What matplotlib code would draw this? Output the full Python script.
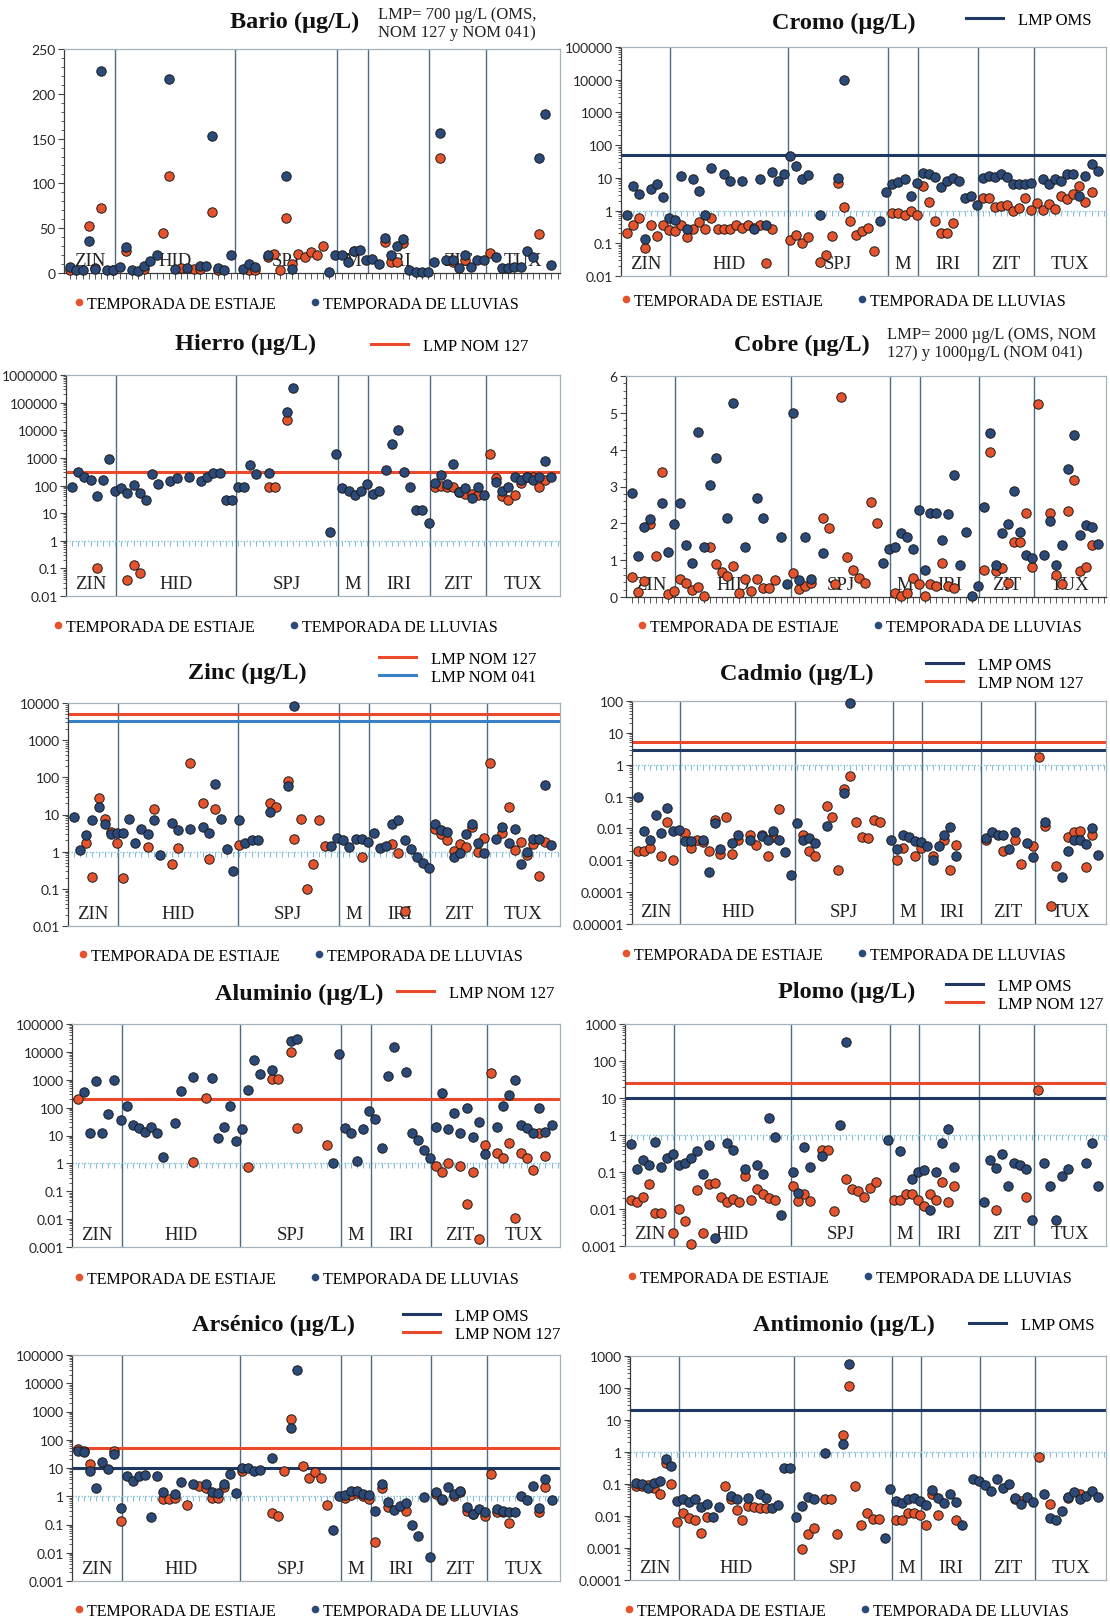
import matplotlib
matplotlib.use("Agg")
import matplotlib.pyplot as plt
import numpy as np
from matplotlib.lines import Line2D
from matplotlib.ticker import LogLocator, FuncFormatter, MultipleLocator, NullFormatter
from matplotlib.transforms import blended_transform_factory

# ---------------- data ----------------
REGIONS = ['ZIN', 'HID', 'SPJ', 'M', 'IRI', 'ZIT', 'TUX']
REGION_EDGES = [0, 8.2, 27.7, 44.3, 49.2, 59.2, 68.4, 80.4]
SITES = list(range(1, 81))

BARIO_EST = [(1,3),(4,53),(5,6),(6,72),(8,3),(10,24),(13,5),(16,45),(17,108),(19,6),(21,4),(22,5),(24,68),(25,3),
             (30,3),(31,3),(33,18),(34,21),(35,3),(36,61),(37,10),(38,21),(39,18),(40,23),(41,20),(42,30),(47,25),
             (52,35),(53,12),(54,12),(55,34),(61,128),(63,12),(65,14),(69,22),(77,44)]
BARIO_LLU = [(1,7),(2,3),(3,3),(4,36),(5,4),(6,225),(7,3),(8,3),(9,7),(10,29),(11,3),(12,2),(13,8),(14,13),(15,20),
             (17,216),(18,4),(20,6),(22,8),(23,8),(24,153),(25,6),(26,3),(27,20),(29,4),(30,10),(31,7),(33,20),
             (36,108),(37,4),(43,1),(44,20),(45,20),(46,12),(47,24),(48,26),(49,14),(50,16),(51,10),(52,39),(53,20),
             (54,30),(55,38),(56,3),(57,1),(58,1),(59,1),(60,12),(61,156),(62,14),(63,15),(64,6),(65,20),(66,7),
             (67,15),(68,15),(70,18),(71,6),(72,6),(73,7),(74,7),(75,25),(76,18),(77,128),(78,177),(79,9)]

CROMO_EST = [(1,0.2),(2,0.35),(3,0.6),(4,0.07),(5,0.37),(6,0.17),(7,0.37),(8,0.25),(9,0.23),(10,0.37),(11,0.16),
             (12,0.27),(13,0.45),(14,0.28),(15,0.6),(16,0.27),(17,0.27),(18,0.28),(19,0.37),(20,0.3),(21,0.35),
             (22,0.3),(23,0.37),(24,0.025),(25,0.27),(28,0.13),(29,0.18),(30,0.1),(31,0.16),(33,0.027),(34,0.045),
             (35,0.17),(36,7),(37,1.25),(38,0.48),(39,0.18),(40,0.23),(41,0.3),(42,0.06),(45,0.85),(46,0.85),
             (47,0.75),(48,0.95),(49,0.75),(50,5.5),(51,1.8),(52,0.47),(53,0.2),(54,0.2),(55,0.43),(60,2.5),(61,2.5),
             (62,1.25),(63,1.4),(64,1.45),(65,1.0),(66,1.2),(67,2.5),(68,1.05),(69,1.75),(70,1.05),(71,1.55),
             (72,1.1),(73,2.8),(74,2.2),(75,3.1),(76,5.5),(77,1.85),(78,3.8)]
CROMO_LLU = [(1,0.75),(2,5.5),(3,3.2),(4,0.14),(5,4.7),(6,6.5),(7,2.6),(8,0.6),(9,0.5),(10,11.5),(11,0.28),(12,9.5),
             (13,4),(14,0.75),(15,20),(17,13),(18,8),(20,8),(22,0.28),(23,9),(24,0.37),(25,15),(26,8),(27,13),
             (28,45),(29,23),(30,9),(31,12),(33,0.75),(36,10),(37,10000),(43,0.48),(44,3.8),(45,6.5),(46,7.5),
             (47,9),(48,2.8),(49,7),(50,14),(51,13),(52,11),(53,5.2),(54,8),(55,10),(56,8),(57,2.5),(58,2.7),
             (59,1.5),(60,10),(61,11.5),(62,11),(63,13),(64,11),(65,6.5),(66,6.5),(67,6.3),(68,7),(70,9.5),
             (71,6.3),(72,9),(73,8),(74,13),(75,13.5),(76,2.8),(77,11.5),(78,26),(79,16)]

HIERRO_EST = [(5,0.1),(10,0.037),(11,0.135),(12,0.07),(33,90),(34,90),(36,24000),(60,87),(61,100),(62,87),(63,87),
              (64,60),(65,50),(66,50),(67,45),(69,1350),(70,180),(71,42),(72,30),(73,45),(74,120),(75,200),
              (76,200),(77,90),(78,155)]
HIERRO_LLU = [(1,87),(2,320),(3,200),(4,160),(5,42),(6,160),(7,900),(8,63),(9,80),(10,55),(11,105),(12,54),(13,31),
              (14,260),(15,110),(17,150),(18,190),(20,210),(22,140),(23,210),(24,280),(25,280),(26,31),(27,30),
              (28,87),(29,90),(30,550),(31,260),(33,280),(36,45000),(37,330000),(43,2.1),(44,1350),(45,83),
              (46,63),(47,45),(48,63),(49,110),(50,50),(51,63),(52,360),(53,3100),(54,10000),(55,320),(56,87),
              (57,13),(58,13),(59,4.5),(60,120),(61,240),(62,110),(63,600),(64,60),(65,83),(66,36),(67,90),(68,45),
              (70,130),(71,65),(72,85),(73,210),(74,155),(75,200),(76,155),(77,200),(78,800),(79,200)]

COBRE_EST = [(1,0.54),(2,0.13),(3,0.43),(4,1.98),(5,1.1),(6,3.39),(7,0.09),(8,0.15),(9,0.49),(10,0.39),(11,0.18),
             (12,0.27),(13,0.04),(14,1.35),(15,0.9),(16,0.67),(17,0.58),(18,0.85),(19,0.1),(20,0.49),(21,0.15),
             (22,0.49),(23,0.24),(24,0.25),(25,0.47),(28,0.65),(29,0.22),(30,0.31),(31,0.39),(33,2.14),(34,1.87),
             (35,0.36),(36,5.44),(37,1.08),(38,0.72),(39,0.52),(40,0.39),(41,2.58),(42,2.02),(45,0.11),(46,0.04),
             (47,0.11),(48,0.51),(49,0.36),(50,0.04),(51,0.36),(52,0.3),(53,0.93),(54,0.31),(55,0.25),(60,0.74),
             (61,3.95),(62,0.7),(63,0.79),(64,0.39),(65,1.48),(66,1.5),(67,2.29),(68,0.81),(69,5.23),(71,2.27),
             (72,0.6),(73,0.36),(74,2.34),(75,3.17),(76,0.7),(77,0.81),(78,1.41)]
COBRE_LLU = [(1,2.83),(2,1.12),(3,1.91),(4,2.11),(6,2.56),(7,1.23),(8,1.99),(9,2.56),(10,1.42),(11,0.93),(12,4.47),
             (13,1.37),(14,3.05),(15,3.77),(17,2.14),(18,5.28),(20,1.35),(22,2.68),(23,2.14),(26,1.64),(27,0.34),
             (28,5.0),(29,0.45),(30,1.64),(31,0.49),(33,1.2),(43,0.92),(44,1.3),(45,1.35),(46,1.75),(47,1.64),
             (48,1.3),(49,2.35),(50,0.72),(51,2.29),(52,2.27),(53,1.55),(54,2.25),(55,3.32),(56,0.88),(57,1.77),
             (58,0.03),(59,0.3),(60,2.43),(61,4.45),(62,0.88),(63,1.75),(64,1.98),(65,2.88),(66,1.77),(67,1.15),
             (68,1.06),(70,1.15),(71,2.07),(72,0.88),(73,1.41),(74,3.48),(75,4.4),(76,1.69),(77,1.96),(78,1.91),
             (79,1.44)]

ZINC_EST = [(3,1.66),(4,0.21),(5,28),(6,7.4),(7,3.4),(8,1.66),(9,0.2),(13,1.3),(14,14),(17,0.46),(18,1.24),(20,245),
            (22,20),(23,0.62),(24,14),(28,1.5),(33,20),(34,16),(36,81),(37,2.2),(38,7.4),(39,0.1),(40,0.46),(41,7.2),
            (42,1.4),(48,0.7),(53,1.6),(54,0.9),(55,0.025),(60,4.0),(61,3.0),(62,2.0),(63,1.05),(64,1.65),(65,1.3),
            (66,4.6),(67,0.96),(68,2.35),(69,245),(71,3.2),(72,16),(73,1.1),(74,1.8),(75,0.8),(76,1.6),(77,0.22),
            (78,1.8)]
ZINC_LLU = [(1,8.7),(2,1.1),(3,2.8),(4,7.1),(5,16),(6,5.6),(7,3.0),(8,3.2),(9,3.2),(10,7.6),(11,1.7),(12,4.0),
            (13,2.9),(14,7.2),(15,0.8),(17,5.8),(18,3.8),(20,4.2),(22,4.5),(23,3.2),(24,66),(25,7.6),(26,1.2),
            (27,0.3),(28,7.1),(29,1.66),(30,2.0),(31,2.0),(33,12),(36,58),(37,8200),(43,1.4),(44,2.35),(45,2.0),
            (46,1.3),(47,2.2),(48,2.2),(49,1.8),(50,3.2),(51,1.24),(52,1.4),(53,5.6),(54,7.2),(55,2.0),(56,1.2),
            (57,0.7),(58,0.5),(59,0.36),(60,5.6),(61,3.8),(62,3.4),(63,0.7),(64,0.9),(65,2.9),(66,5.6),(67,1.66),
            (68,0.9),(70,2.2),(71,4.6),(72,1.66),(73,4.2),(74,0.46),(75,1.0),(76,2.2),(77,2.2),(78,64),(79,1.5)]

CADMIO_EST = [(1,0.002),(2,0.002),(3,0.0025),(5,0.0014),(6,0.016),(7,0.001),(9,0.007),(10,0.0025),(11,0.0042),
              (12,0.0037),(13,0.0019),(14,0.019),(15,0.0016),(16,0.023),(17,0.0016),(18,0.0042),(20,0.006),
              (21,0.003),(22,0.0064),(23,0.0014),(24,0.0052),(25,0.04),(29,0.006),(30,0.0019),(31,0.0014),
              (33,0.049),(34,0.023),(35,0.0005),(36,0.17),(37,0.43),(38,0.016),(39,0.0052),(40,0.005),(41,0.018),
              (42,0.016),(45,0.001),(46,0.0025),(48,0.0014),(49,0.0025),(51,0.0014),(53,0.0042),(54,0.0005),
              (55,0.003),(60,0.0042),(63,0.0019),(65,0.0042),(66,0.00076),(68,0.0028),(69,1.74),(70,0.012),
              (71,0.000037),(72,0.00065),(74,0.0052),(75,0.0075),(76,0.0085),(77,0.0006),(78,0.006)]
CADMIO_LLU = [(1,0.096),(2,0.0085),(3,0.0042),(4,0.027),(5,0.007),(6,0.045),(7,0.0085),(8,0.0089),(9,0.0039),
              (10,0.0039),(12,0.0042),(13,0.00044),(14,0.015),(15,0.0023),(17,0.0034),(18,0.006),(20,0.0042),
              (22,0.0058),(23,0.0042),(24,0.0085),(25,0.0042),(26,0.0018),(27,0.00035),(28,0.015),(29,0.0042),
              (30,0.0049),(31,0.0034),(33,0.012),(36,0.13),(37,86),(44,0.0042),(45,0.0023),(46,0.006),(47,0.0055),
              (48,0.0039),(49,0.0037),(50,0.0028),(51,0.001),(52,0.0028),(53,0.006),(54,0.011),(55,0.0014),
              (60,0.0049),(61,0.0075),(62,0.006),(63,0.006),(64,0.0023),(65,0.0075),(67,0.0034),(68,0.0013),
              (70,0.016),(73,0.0003),(74,0.0019),(75,0.0042),(76,0.0042),(77,0.0033),(78,0.0105),(79,0.0015)]

ALUMINIO_EST = [(1,210),(20,1.15),(22,230),(29,0.76),(33,1100),(34,1100),(36,10000),(37,19),(42,4.5),(60,0.8),
                (61,0.5),(62,1.0),(64,0.8),(65,0.035),(66,0.5),(67,0.002),(68,4.6),(69,1800),(70,2.4),(71,1.5),
                (72,5.5),(73,0.011),(74,2.4),(75,1.5),(76,0.6),(77,12),(78,1.8)]
ALUMINIO_LLU = [(2,350),(3,12.5),(4,900),(5,12.5),(6,57),(7,1000),(8,37),(9,110),(10,23),(11,18),(12,13.5),(13,20),
                (14,12),(15,1.75),(17,29),(18,400),(20,1250),(23,1170),(24,8),(25,21),(26,110),(27,6.3),(28,17),
                (29,430),(30,5300),(31,1600),(33,2300),(36,24000),(37,29000),(43,1.0),(44,8700),(45,19),(46,12),
                (47,1.2),(48,17),(49,76),(50,38),(51,3.6),(52,1380),(53,15000),(55,1950),(56,12.5),(57,6.8),(58,3.0),
                (59,1.5),(60,21),(61,330),(62,17),(63,63),(64,12.5),(65,96),(66,8.5),(67,31),(68,2.2),(70,20),
                (71,115),(72,290),(73,950),(74,24),(75,19),(76,12.5),(77,100),(78,13),(79,24)]

PLOMO_EST = [(1,0.017),(2,0.015),(3,0.021),(4,0.046),(5,0.0076),(6,0.008),(8,0.0022),(9,0.0098),(10,0.0047),
             (11,0.0011),(12,0.032),(13,0.0023),(14,0.047),(15,0.05),(16,0.021),(17,0.015),(18,0.019),(19,0.015),
             (20,0.08),(21,0.018),(22,0.034),(23,0.025),(24,0.02),(25,0.018),(28,0.042),(29,0.016),(30,0.025),
             (31,0.016),(33,0.4),(34,0.4),(35,0.0088),(37,0.066),(38,0.034),(39,0.031),(40,0.021),(41,0.036),
             (42,0.054),(45,0.017),(46,0.017),(47,0.025),(48,0.026),(49,0.018),(50,0.012),(51,0.025),(52,0.017),
             (53,0.054),(54,0.015),(55,0.042),(62,0.0093),(67,0.021),(69,16.5)]
PLOMO_LLU = [(1,0.57),(2,0.12),(3,0.21),(4,0.15),(5,0.63),(6,0.14),(7,0.24),(8,0.3),(9,0.15),(10,0.17),(11,0.24),
             (12,0.38),(13,0.09),(14,0.53),(15,0.0016),(17,0.6),(18,0.39),(20,0.12),(22,0.15),(23,0.09),(24,2.8),
             (25,0.9),(26,0.0068),(28,0.1),(29,0.027),(30,0.46),(31,0.14),(33,0.27),(36,1.9),(37,335),(44,0.72),
             (46,0.37),(48,0.065),(49,0.1),(50,0.11),(51,0.0093),(52,0.1),(53,0.6),(54,1.45),(55,0.14),(60,0.015),
             (61,0.21),(62,0.13),(63,0.3),(64,0.042),(65,0.17),(66,0.15),(67,0.12),(68,0.005),(70,0.17),(71,0.042),
             (72,0.005),(73,0.08),(74,0.12),(77,0.18),(78,0.6),(79,0.042)]

ARSENICO_EST = [(1,47),(2,40),(3,14),(7,41),(8,0.13),(15,0.78),(16,0.78),(17,0.84),(19,0.5),(21,2.3),(22,2.0),
                (23,0.86),(24,0.86),(25,2.2),(28,7.8),(33,0.25),(34,0.2),(35,7.8),(36,550),(38,12),(39,4.6),(40,7.2),
                (41,4.6),(42,0.51),(45,0.84),(46,1.15),(47,1.26),(48,1.05),(49,0.8),(50,0.025),(51,1.95),(52,0.4),
                (55,0.31),(60,1.2),(61,0.75),(63,1.05),(64,1.4),(65,0.3),(66,0.23),(68,0.2),(69,6.3),(70,0.28),
                (71,0.28),(72,0.11),(77,0.28),(78,2.2)]
ARSENICO_LLU = [(1,41),(2,38),(3,7.7),(4,1.95),(5,16),(6,9.3),(7,31),(8,0.38),(9,5.1),(10,3.4),(11,5.2),(12,5.8),
                (13,0.19),(14,5.2),(15,1.4),(17,1.2),(18,3.2),(20,2.7),(22,2.7),(23,1.4),(24,1.3),(25,2.7),(26,6.0),
                (27,1.3),(28,10),(29,10),(30,7.8),(31,8.3),(33,23),(36,260),(37,29000),(43,0.063),(44,1.0),(45,1.15),
                (46,1.5),(47,1.5),(48,1.2),(49,1.1),(50,0.29),(51,2.7),(52,0.65),(53,0.33),(54,0.47),(55,0.6),
                (56,0.093),(57,0.04),(58,0.95),(59,0.0072),(60,1.4),(61,0.8),(62,2.2),(63,1.2),(64,1.5),(65,0.4),
                (66,0.23),(67,0.35),(68,0.28),(70,0.34),(71,0.31),(72,0.28),(73,0.27),(74,1.0),(75,0.75),(76,2.3),
                (77,0.38),(78,4.2),(79,0.75)]

ANTIMONIO_EST = [(1,0.085),(2,0.085),(3,0.09),(4,0.077),(5,0.05),(6,0.46),(7,0.1),(8,0.0063),(9,0.0125),(10,0.0088),
                 (11,0.0077),(12,0.003),(13,0.009),(16,0.088),(17,0.033),(18,0.015),(19,0.0074),(20,0.02),(21,0.019),
                 (22,0.018),(23,0.018),(29,0.0009),(30,0.0028),(31,0.0043),(33,0.034),(34,0.034),(35,0.0028),
                 (36,3.5),(37,115),(38,0.085),(39,0.0054),(40,0.0125),(41,0.0082),(42,0.0082),(45,0.0074),
                 (46,0.0074),(47,0.0125),(48,0.0125),(49,0.0105),(50,0.0052),(51,0.047),(52,0.0105),(55,0.0074),
                 (65,0.033),(66,0.03),(69,0.68),(71,0.023),(74,0.036),(76,0.05)]
ANTIMONIO_LLU = [(1,0.11),(2,0.1),(3,0.075),(4,0.11),(5,0.12),(6,0.59),(7,0.36),(8,0.029),(9,0.033),(10,0.027),
                 (11,0.033),(12,0.019),(13,0.023),(14,0.009),(15,0.019),(17,0.043),(18,0.033),(20,0.037),(22,0.047),
                 (23,0.037),(24,0.018),(25,0.022),(26,0.32),(27,0.32),(28,0.009),(29,0.02),(30,0.04),(31,0.033),
                 (33,0.94),(36,1.75),(37,550),(43,0.0021),(44,0.068),(45,0.029),(46,0.026),(47,0.033),(48,0.036),
                 (49,0.029),(50,0.022),(51,0.065),(52,0.036),(53,0.026),(54,0.05),(55,0.027),(56,0.0052),(58,0.14),
                 (59,0.12),(60,0.09),(61,0.059),(62,0.14),(63,0.077),(64,0.1),(65,0.037),(66,0.023),(67,0.04),
                 (68,0.027),(70,0.047),(71,0.0086),(72,0.0074),(73,0.014),(74,0.04),(75,0.055),(76,0.033),
                 (77,0.043),(78,0.06),(79,0.04)]

# ---------------- style ----------------
W, H = 1110, 1624
plt.rcParams['font.family'] = ['Lato', 'DejaVu Sans']
SERIF = ['Liberation Serif', 'DejaVu Serif']
RED = '#e4532c'
BLUE = '#2b4a79'
NAVY = '#1f3864'
LMP_RED = '#ea4a2a'
LMP_BLUE = '#3b7fc4'
DIV = '#4f6b80'
FRAME = '#a3b1bb'
DOT = '#86bfd8'
EDGE = '#1c1c1c'

fig = plt.figure(figsize=(W / 100, H / 100), dpi=100)


def logfmt(v, pos):
    if v >= 1:
        return f'{int(round(v))}'
    d = int(round(-np.log10(v)))
    return f'{v:.{d}f}'


def panel(box, est, llu, ylim, log, lmps, title, tpos, lmp_anchor, leg_pos,
          major=None, minor=None, note=None):
    l, r, t, b = box
    ax = fig.add_axes([l / W, 1 - b / H, (r - l) / W, (b - t) / H])
    ax.set_xlim(REGION_EDGES[0], REGION_EDGES[-1])
    if log:
        ax.set_yscale('log')
    ax.set_ylim(*ylim)
    for e in REGION_EDGES[1:-1]:
        ax.axvline(e, color=DIV, lw=1.0, zorder=1)
    for val, col, lab in lmps:
        ax.axhline(val, color=col, lw=2.2, zorder=2)
    if log:
        ax.axhline(1, color=DOT, lw=1.0, ls=(0, (1.0, 1.2)), zorder=1.5)
        ax.plot(SITES, np.ones(len(SITES)), ls='none', marker=3, ms=3.5, mew=0.8,
                color=DOT, zorder=1.5)
        ax.set_xticks([])
        ax.yaxis.set_major_locator(LogLocator(base=10, numticks=20))
        ax.yaxis.set_major_formatter(FuncFormatter(logfmt))
        ax.yaxis.set_minor_locator(LogLocator(base=10, subs=np.arange(2, 10), numticks=200))
        ax.yaxis.set_minor_formatter(NullFormatter())
    else:
        ax.set_xticks(SITES)
        ax.set_xticklabels([])
        ax.tick_params(axis='x', direction='out', length=4, width=0.7, color='#555555')
        ax.yaxis.set_major_locator(MultipleLocator(major))
        ax.yaxis.set_minor_locator(MultipleLocator(minor))
    ax.tick_params(axis='y', which='major', direction='out', length=4, width=0.8,
                   color='#444444', labelsize=10, labelcolor='#262626', pad=2)
    ax.tick_params(axis='y', which='minor', direction='out', length=2, width=0.6, color='#444444')
    for s in ax.spines.values():
        s.set_color(FRAME)
        s.set_linewidth(0.9)
    ax.spines['left'].set_color('#3a3a3a')
    if not log:
        ax.spines['bottom'].set_color('#3a3a3a')

    ex, ey = zip(*est)
    lx, ly = zip(*llu)
    ax.scatter(ex, ey, s=46, c=RED, edgecolors=EDGE, linewidths=0.7, zorder=3, clip_on=False)
    ax.scatter(lx, ly, s=46, c=BLUE, edgecolors=EDGE, linewidths=0.7, zorder=3.1, clip_on=False)

    trans = blended_transform_factory(ax.transData, ax.transAxes)
    for k, name in enumerate(REGIONS):
        cx = 0.5 * (REGION_EDGES[k] + REGION_EDGES[k + 1])
        ax.text(cx, 0.055, name, transform=trans, ha='center', va='center',
                family=SERIF, fontsize=13.5, color='#222222', zorder=2.5)

    fig.text(tpos[0] / W, 1 - tpos[1] / H, title, ha='center', va='center',
             family=SERIF, weight='bold', fontsize=17.5, color='#111111')
    if lmps:
        handles = [Line2D([], [], color=c, lw=2.2) for v, c, lab in lmps]
        labels = [lab for v, c, lab in lmps]
        fig.legend(handles, labels, loc='center left',
                   bbox_to_anchor=(lmp_anchor[0] / W, 1 - lmp_anchor[1] / H),
                   frameon=False, prop=dict(family=SERIF, size=12), handlelength=2.2,
                   handletextpad=0.9, labelspacing=0.15, borderpad=0, borderaxespad=0)
    if note is not None:
        fig.text(note[0] / W, 1 - note[1] / H, note[2], ha='left', va='center',
                 family=SERIF, fontsize=12, color='#222222', linespacing=1.2)

    hs = [Line2D([], [], ls='none', marker='o', ms=5.5, mfc=RED, mec='none'),
          Line2D([], [], ls='none', marker='o', ms=5.5, mfc=BLUE, mec='none')]
    fig.legend(hs, ['TEMPORADA DE ESTIAJE', 'TEMPORADA DE LLUVIAS'], loc='center',
               bbox_to_anchor=(leg_pos[0] / W, 1 - leg_pos[1] / H), ncol=2, frameon=False,
               prop=dict(family=SERIF, size=11.5), handlelength=0.5, handletextpad=0.25,
               columnspacing=2.2, borderpad=0, borderaxespad=0)
    return ax


panel((64, 560, 50, 274), BARIO_EST, BARIO_LLU, (0, 250), False, [],
      'Bario (µg/L)', (295, 22), None, (297, 305), major=50, minor=10,
      note=(378, 24, 'LMP= 700 µg/L (OMS,\nNOM 127 y NOM 041)'))
panel((621, 1106, 48, 277), CROMO_EST, CROMO_LLU, (0.01, 100000), True,
      [(50, NAVY, 'LMP OMS')], 'Cromo (µg/L)', (844, 23), (966, 21), (844, 302))
panel((66, 560, 376, 597), HIERRO_EST, HIERRO_LLU, (0.01, 1000000), True,
      [(300, LMP_RED, 'LMP NOM 127')], 'Hierro (µg/L)', (246, 344), (371, 347), (276, 628))
panel((626, 1106, 377, 598), COBRE_EST, COBRE_LLU, (0, 6), False, [],
      'Cobre (µg/L)', (802, 345), None, (860, 628), major=1, minor=0.2,
      note=(887, 344, 'LMP= 2000 µg/L (OMS, NOM\n127) y 1000µg/L (NOM 041)'))
panel((68, 560, 704, 927), ZINC_EST, ZINC_LLU, (0.01, 10000), True,
      [(5000, LMP_RED, 'LMP NOM 127'), (3200, LMP_BLUE, 'LMP NOM 041')],
      'Zinc (µg/L)', (247, 673), (379, 669), (301, 957))
panel((632, 1106, 702, 925), CADMIO_EST, CADMIO_LLU, (0.00001, 100), True,
      [(3, NAVY, 'LMP OMS'), (5, LMP_RED, 'LMP NOM 127')],
      'Cadmio (µg/L)', (797, 674), (926, 675), (844, 956))
panel((72, 560, 1025, 1248), ALUMINIO_EST, ALUMINIO_LLU, (0.001, 100000), True,
      [(200, LMP_RED, 'LMP NOM 127')], 'Aluminio (µg/L)', (299, 994), (397, 994), (297, 1280))
panel((625, 1106, 1025, 1247), PLOMO_EST, PLOMO_LLU, (0.001, 1000), True,
      [(10, NAVY, 'LMP OMS'), (25, LMP_RED, 'LMP NOM 127')],
      'Plomo (µg/L)', (847, 992), (946, 996), (850, 1279))
panel((72, 560, 1356, 1582), ARSENICO_EST, ARSENICO_LLU, (0.001, 100000), True,
      [(10, NAVY, 'LMP OMS'), (50, LMP_RED, 'LMP NOM 127')],
      'Arsénico (µg/L)', (274, 1325), (403, 1326), (297, 1612))
panel((630, 1106, 1357, 1581), ANTIMONIO_EST, ANTIMONIO_LLU, (0.0001, 1000), True,
      [(20, NAVY, 'LMP OMS')], 'Antimonio (µg/L)', (844, 1325), (969, 1326), (847, 1612))

fig.savefig('out.png', dpi=100)
